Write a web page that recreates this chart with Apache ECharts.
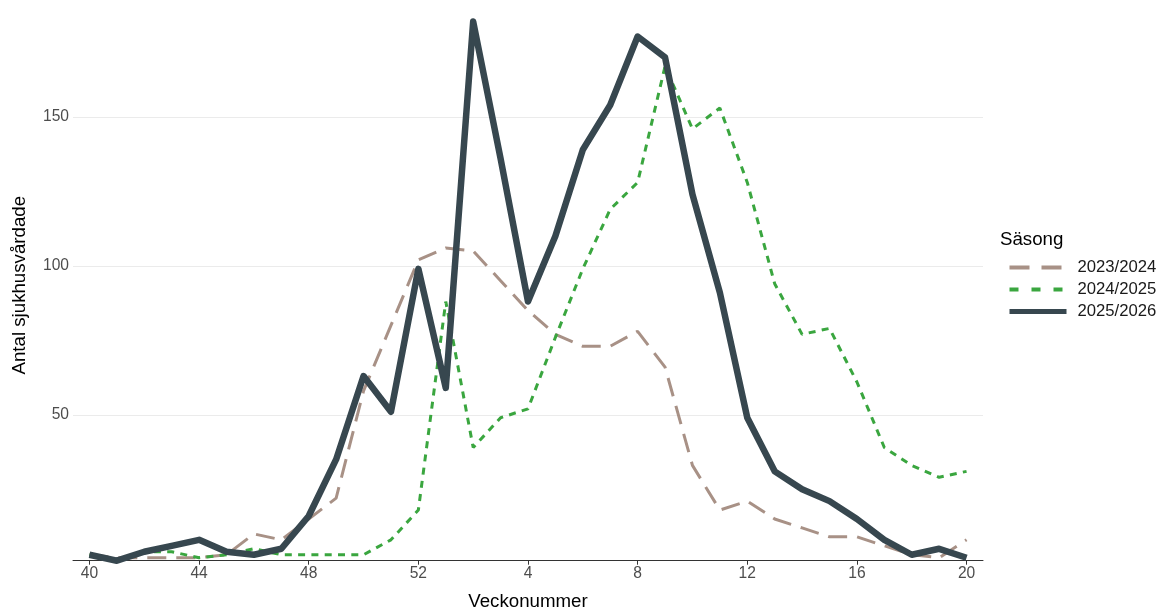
<!DOCTYPE html>
<html><head><meta charset="utf-8">
<script src="https://cdn.jsdelivr.net/npm/echarts@6/dist/echarts.min.js"></script>
<style>html,body{margin:0;padding:0;background:#fff}#c{width:1161px;height:610px}</style>
</head><body><div id="c"></div>
<script>
const weeks = [40,41,42,43,44,45,46,47,48,49,50,51,52,1,2,3,4,5,6,7,8,9,10,11,12,13,14,15,16,17,18,19,20];
const tickWeeks = [40,44,48,52,4,8,12,16,20];
const yTicks = [50,100,150];
const s2023 = [3,2,2,2,2,3,10,8,15,22,58,80,102,106,105,95,85,77,73,73,78,66,33,18,21,15,12,9,9,6,3,2,8];
const s2024 = [3,1,4,4,2,3,5,3,3,3,3,8,18,88,39,49,52,76,99,119,128,167,146,153,128,94,77,79,61,39,33,29,31];
const s2025 = [3,1,4,6,8,4,3,5,16,35,63,51,99,59,182,136,88,110,139,154,177,170,124,91,49,31,25,21,15,8,3,5,2];
const seasons = ['2023/2024','2024/2025','2025/2026'];

// map tick weeks to indices in order
let pos = 0; const tickIndices = [];
tickWeeks.forEach(w => { while (weeks[pos] !== w) pos++; tickIndices.push(pos); });

const toPairs = arr => arr.map((v,i)=>[i,v]);
const chart = echarts.init(document.getElementById('c'), null, {renderer:'canvas'});
const font = 'Liberation Sans, Arial, sans-serif';
const cTan = '#a89186', cGreen = '#3aa63f', cDark = '#37474f';
chart.setOption({
  animation:false,
  backgroundColor:'#fff',
  grid:{left:73,right:178,top:9.7,bottom:49.3,containLabel:false,outerBoundsMode:'none'},
  legend:{
    orient:'vertical', left:1007, top:259, padding:0,
    itemWidth:57, itemHeight:18, itemGap:5,
    itemStyle:{color:'transparent',borderColor:'transparent',borderWidth:0,opacity:0},
    textStyle:{fontFamily:font,fontSize:16.7,color:'#1a1a1a',padding:[0,0,0,6]},
    data:[
      {name:seasons[0],lineStyle:{color:cTan,width:4,type:[20,12,20,100]}},
      {name:seasons[1],lineStyle:{color:cGreen,width:4,type:[9,13,9,13,9,100]}},
      {name:seasons[2],lineStyle:{color:cDark,width:5,type:'solid'}}
    ]
  },
  graphic:[{type:'text',left:1000,top:230,style:{text:'Säsong',font:'18.7px '+font,fill:'#000'}}],
  xAxis:{
    type:'value',min:-0.6,max:32.6,
    name:'Veckonummer',nameLocation:'middle',nameGap:32,
    nameTextStyle:{fontFamily:font,fontSize:18.7,color:'#000'},
    axisLine:{show:true,lineStyle:{color:'#333',width:1}},
    axisTick:{show:true,customValues:tickIndices,length:4,lineStyle:{color:'#333'}},
    axisLabel:{customValues:tickIndices,formatter:v=>String(weeks[Math.round(v)]),fontFamily:font,fontSize:15.6,color:'#4d4d4d',margin:5},
    splitLine:{show:false}
  },
  yAxis:{
    type:'value',min:1,max:186,
    name:'Antal sjukhusvårdade',nameLocation:'middle',nameGap:44,nameRotate:90,
    nameTextStyle:{fontFamily:font,fontSize:18.7,color:'#000'},
    axisLine:{show:false},
    axisTick:{show:false,customValues:yTicks},
    axisLabel:{customValues:yTicks,fontFamily:font,fontSize:15.6,color:'#4d4d4d',margin:4},
    splitLine:{show:true,lineStyle:{color:'#ebebeb',width:1}}
  },
  series:[
    {name:seasons[0],type:'line',data:toPairs(s2023),symbol:'none',z:2,
      itemStyle:{color:cTan},lineStyle:{color:cTan,width:3,type:[19,10]}},
    {name:seasons[1],type:'line',data:toPairs(s2024),symbol:'none',z:3,
      itemStyle:{color:cGreen},lineStyle:{color:cGreen,width:3,type:[7,6.3]}},
    {name:seasons[2],type:'line',data:toPairs(s2025),symbol:'none',z:4,
      itemStyle:{color:cDark},lineStyle:{color:cDark,width:6.5,type:'solid',join:'round'}}
  ]
});
</script></body></html>
